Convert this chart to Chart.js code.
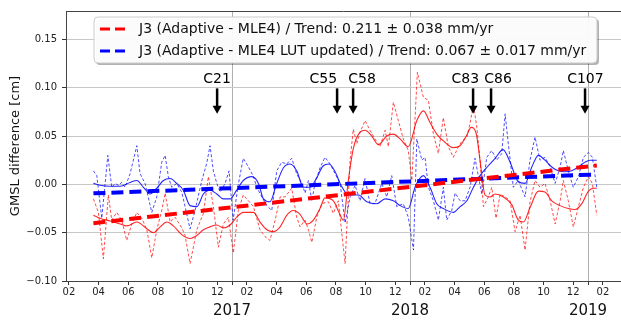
<!DOCTYPE html>
<html>
<head>
<meta charset="utf-8">
<script src="https://cdn.jsdelivr.net/npm/chart.js@4.4.0/dist/chart.umd.min.js"></script>
<style>
  html, body { margin: 0; padding: 0; background: #fff; }
  #wrap { width: 621px; height: 320px; position: relative; }
</style>
</head>
<body>
<div id="wrap"><canvas id="gmslChart"></canvas></div>
<script>
// --- data: time in decimal years, GMSL difference in cm ---
const redRawT = [2016.221,2016.249,2016.277,2016.305,2016.324,2016.352,2016.380,2016.408,2016.437,2016.465,
  2016.493,2016.521,2016.549,2016.577,2016.605,2016.624,2016.652,2016.680,2016.717,2016.736,
  2016.764,2016.802,2016.839,2016.867,2016.895,2016.923,2016.951,2016.979,2017.007,2017.035,
  2017.063,2017.092,2017.120,2017.157,2017.185,2017.213,2017.242,2017.270,2017.298,2017.335,
  2017.363,2017.382,2017.410,2017.429,2017.448,2017.476,2017.504,2017.541,2017.569,2017.597,
  2017.618,2017.635,2017.663,2017.681,2017.701,2017.719,2017.747,2017.775,2017.803,2017.831,
  2017.860,2017.878,2017.906,2017.934,2017.962,2017.990,2018.010,2018.041,2018.075,2018.103,
  2018.131,2018.159,2018.187,2018.215,2018.243,2018.270,2018.292,2018.319,2018.337,2018.356,
  2018.375,2018.393,2018.412,2018.440,2018.459,2018.483,2018.506,2018.534,2018.562,2018.590,
  2018.618,2018.646,2018.674,2018.702,2018.730,2018.758,2018.787,2018.815,2018.843,2018.861,
  2018.889,2018.917,2018.946,2018.974,2019.002,2019.024,2019.049];
const redRawV = [-0.015,-0.029,-0.077,-0.011,-0.037,-0.029,-0.037,-0.058,-0.041,-0.029,
  -0.035,-0.047,-0.076,-0.047,-0.027,-0.009,-0.039,-0.034,-0.045,-0.053,
  -0.082,-0.047,-0.030,0.008,-0.023,-0.065,-0.041,-0.034,-0.071,-0.027,
  -0.011,-0.017,-0.023,-0.047,-0.054,-0.058,-0.037,-0.013,-0.013,-0.004,
  -0.034,-0.044,-0.037,-0.047,-0.060,-0.034,-0.020,-0.018,-0.030,-0.017,
  -0.053,-0.082,0.025,0.057,0.042,0.054,0.066,0.056,0.047,0.039,
  0.056,0.039,0.085,0.066,0.047,0.035,0.004,0.116,0.090,0.087,
  0.052,0.032,0.069,0.039,0.028,0.038,0.045,0.049,0.063,0.083,
  0.059,0.025,-0.023,-0.013,-0.003,-0.035,-0.010,-0.013,-0.017,-0.049,
  -0.032,-0.068,-0.018,0.004,-0.003,0.001,-0.017,-0.041,-0.017,0.004,
  -0.017,-0.044,-0.023,-0.003,0.008,0.001,-0.032];

const blueRawT = [2016.221,2016.240,2016.268,2016.302,2016.324,2016.343,2016.361,2016.380,2016.399,2016.427,
  2016.465,2016.483,2016.511,2016.549,2016.577,2016.605,2016.624,2016.642,2016.661,2016.689,
  2016.717,2016.736,2016.764,2016.792,2016.830,2016.858,2016.876,2016.895,2016.914,2016.933,
  2016.961,2016.983,2017.006,2017.034,2017.063,2017.092,2017.120,2017.139,2017.167,2017.195,
  2017.223,2017.251,2017.279,2017.307,2017.335,2017.363,2017.392,2017.410,2017.429,2017.448,
  2017.466,2017.494,2017.522,2017.551,2017.579,2017.607,2017.635,2017.663,2017.691,2017.719,
  2017.747,2017.775,2017.803,2017.841,2017.869,2017.897,2017.925,2017.962,2017.990,2018.019,
  2018.038,2018.066,2018.084,2018.103,2018.131,2018.159,2018.187,2018.206,2018.234,2018.253,
  2018.281,2018.309,2018.337,2018.365,2018.384,2018.403,2018.431,2018.459,2018.487,2018.515,
  2018.534,2018.552,2018.580,2018.608,2018.646,2018.674,2018.702,2018.730,2018.758,2018.787,
  2018.815,2018.843,2018.861,2018.889,2018.917,2018.946,2018.974,2019.002,2019.024,2019.049];
const blueRawV = [0.014,0.009,-0.035,0.030,-0.003,0.001,-0.001,0.002,-0.003,0.011,
  0.040,0.011,0.001,-0.029,-0.013,0.023,0.030,0.008,-0.003,0.001,
  -0.008,-0.023,-0.046,-0.027,0.004,0.022,0.040,0.014,0.001,-0.008,
  0.001,0.014,-0.037,-0.001,0.027,0.018,0.008,-0.003,-0.013,-0.022,
  -0.027,0.014,0.023,0.021,0.027,0.011,0.001,-0.009,0.004,-0.017,
  0.001,0.017,0.028,0.021,0.011,0.001,-0.040,-0.013,-0.001,-0.017,
  0.006,-0.020,-0.020,0.001,-0.013,0.009,-0.023,-0.020,-0.034,-0.068,
  0.047,0.025,0.028,-0.003,-0.017,-0.037,-0.003,-0.037,-0.027,-0.009,
  -0.017,-0.017,-0.003,0.027,0.008,-0.010,0.028,0.035,0.025,0.032,
  0.073,0.042,-0.003,0.004,-0.013,0.025,0.049,0.025,0.028,0.018,
  0.001,0.018,0.035,0.014,-0.003,0.008,0.028,0.033,0.028,-0.003];

const redSmoothT = [2016.221,2016.258,2016.315,2016.371,2016.408,2016.465,2016.521,2016.558,2016.596,2016.633,
  2016.670,2016.717,2016.764,2016.802,2016.839,2016.876,2016.914,2016.951,2016.989,2017.026,
  2017.063,2017.120,2017.157,2017.195,2017.232,2017.270,2017.307,2017.344,2017.382,2017.420,
  2017.457,2017.494,2017.522,2017.569,2017.596,2017.625,2017.653,2017.681,2017.719,2017.747,
  2017.785,2017.822,2017.869,2017.906,2017.944,2017.990,2018.038,2018.075,2018.112,2018.150,
  2018.187,2018.243,2018.281,2018.319,2018.343,2018.371,2018.393,2018.421,2018.449,2018.478,
  2018.524,2018.571,2018.608,2018.637,2018.674,2018.721,2018.758,2018.796,2018.843,2018.889,
  2018.927,2018.965,2019.002,2019.030,2019.049];
const redSmoothV = [-0.032,-0.035,-0.038,-0.041,-0.043,-0.039,-0.046,-0.050,-0.044,-0.039,
  -0.043,-0.052,-0.056,-0.053,-0.047,-0.044,-0.042,-0.045,-0.042,-0.034,
  -0.029,-0.029,-0.039,-0.047,-0.049,-0.044,-0.032,-0.027,-0.031,-0.041,
  -0.037,-0.025,-0.014,-0.017,-0.027,-0.037,0.004,0.037,0.054,0.056,
  0.050,0.041,0.050,0.052,0.047,0.039,0.066,0.076,0.064,0.052,
  0.045,0.038,0.040,0.051,0.059,0.053,0.025,-0.011,-0.013,-0.010,
  -0.013,-0.021,-0.037,-0.039,-0.024,-0.007,-0.008,-0.017,-0.022,-0.025,
  -0.026,-0.020,-0.007,-0.004,-0.004];

const blueSmoothT = [2016.221,2016.258,2016.315,2016.371,2016.427,2016.465,2016.502,2016.539,2016.577,2016.614,
  2016.652,2016.689,2016.726,2016.764,2016.802,2016.839,2016.876,2016.914,2016.951,2016.989,
  2017.026,2017.063,2017.111,2017.148,2017.176,2017.213,2017.251,2017.288,2017.326,2017.363,
  2017.401,2017.438,2017.476,2017.511,2017.545,2017.579,2017.612,2017.646,2017.674,2017.710,
  2017.757,2017.813,2017.860,2017.906,2017.944,2017.990,2018.028,2018.075,2018.112,2018.150,
  2018.187,2018.243,2018.281,2018.319,2018.356,2018.393,2018.438,2018.478,2018.522,2018.562,
  2018.607,2018.646,2018.684,2018.721,2018.758,2018.796,2018.833,2018.871,2018.908,2018.946,
  2018.983,2019.011,2019.049];
const blueSmoothV = [0.001,-0.001,-0.002,-0.002,0.002,0.004,-0.003,-0.010,-0.004,0.004,
  0.006,0.001,-0.006,-0.022,-0.023,-0.010,-0.006,-0.010,-0.015,-0.015,
  -0.006,0.004,0.008,0.001,-0.015,-0.018,0.001,0.017,0.021,0.014,
  -0.003,-0.003,0.007,0.019,0.021,0.013,-0.001,-0.010,-0.011,-0.011,
  -0.018,-0.020,-0.015,-0.017,-0.022,-0.025,-0.003,0.009,-0.003,-0.020,
  -0.025,-0.029,-0.023,-0.017,-0.003,0.009,0.019,0.027,0.036,0.023,
  0.003,0.001,0.018,0.030,0.025,0.018,0.014,0.013,0.014,0.018,
  0.023,0.025,0.025];

// linear trends (end points)
const trendT = [2016.221, 2019.049];
const redTrendV = [-0.0402, 0.0196];
const blueTrendV = [-0.0093, 0.0103];

const legendLabels = [
  'J3 (Adaptive - MLE4) / Trend: 0.211 \u00b1 0.038 mm/yr',
  'J3 (Adaptive - MLE4 LUT updated) / Trend: 0.067 \u00b1 0.017 mm/yr'
];

// cycle markers
const cycleLabels = ['C21', 'C55', 'C58', 'C83', 'C86', 'C107'];
const cycleArrowT = [2016.916, 2017.590, 2017.680, 2018.354, 2018.455, 2018.983];
const cycleTextT  = [2016.916, 2017.513, 2017.730, 2018.310, 2018.494, 2018.985];
const arrowFromV = 0.0993, arrowToV = 0.0732, cycleTextV = 0.109;

// axes
const tickYears = [2016, 2017, 2018, 2019];
const tickMonths = [2, 4, 6, 8, 10, 12];
const yearLines = [2017, 2018, 2019];
const yTicks = [-0.10, -0.05, 0.00, 0.05, 0.10, 0.15];
const xMin = 2016.067, xMax = 2019.185;
const yMin = -0.10, yMax = 0.1794;

const zip = (t, v) => t.map((x, i) => ({ x: x, y: v[i] }));
const FONT = "'DejaVu Sans', sans-serif";
const RED = 'rgb(255,0,0)', BLUE = 'rgb(0,0,255)';

const monthTickValues = [];
tickYears.forEach(y => tickMonths.forEach(m => monthTickValues.push(y + (m - 1) / 12)));
yearLines.forEach(y => monthTickValues.push(y));
monthTickValues.sort((a, b) => a - b);
const isYear = v => Math.abs(v - Math.round(v)) < 1e-6;

// --- plugin: frame, cycle arrows and the boxed legend ---
const notesPlugin = {
  id: 'notes',
  afterDraw(chart) {
    const ctx = chart.ctx, a = chart.chartArea;
    const xs = chart.scales.x, ys = chart.scales.y;
    ctx.save();
    // top frame line
    ctx.strokeStyle = '#444'; ctx.lineWidth = 1;
    ctx.beginPath(); ctx.moveTo(a.left, a.top + 0.5); ctx.lineTo(a.right, a.top + 0.5); ctx.stroke();

    // arrows
    ctx.fillStyle = '#000'; ctx.strokeStyle = '#000';
    ctx.font = '14px ' + FONT; ctx.textAlign = 'center'; ctx.textBaseline = 'middle';
    cycleLabels.forEach((lab, i) => {
      const px = xs.getPixelForValue(cycleArrowT[i]);
      const y0 = ys.getPixelForValue(arrowFromV), y1 = ys.getPixelForValue(arrowToV);
      ctx.lineWidth = 2.5;
      ctx.beginPath(); ctx.moveTo(px, y0); ctx.lineTo(px, y1 - 7); ctx.stroke();
      ctx.beginPath(); ctx.moveTo(px - 4.5, y1 - 8); ctx.lineTo(px + 4.5, y1 - 8); ctx.lineTo(px, y1); ctx.closePath(); ctx.fill();
      ctx.fillText(lab, xs.getPixelForValue(cycleTextT[i]), ys.getPixelForValue(cycleTextV));
    });

    // legend box
    const bx = 94, by = 17, bw = 503, bh = 46;
    ctx.fillStyle = 'rgba(0,0,0,0.3)';
    ctx.beginPath(); ctx.roundRect(bx + 2, by + 2, bw, bh, 4); ctx.fill();
    ctx.fillStyle = 'rgba(255,255,255,0.95)';
    ctx.beginPath(); ctx.roundRect(bx, by, bw, bh, 4); ctx.fill();
    ctx.strokeStyle = '#cccccc'; ctx.lineWidth = 1; ctx.stroke();
    const cols = [RED, BLUE];
    ctx.font = '14px ' + FONT; ctx.textAlign = 'left'; ctx.textBaseline = 'middle';
    legendLabels.forEach((lab, i) => {
      const ly = by + 12 + i * 22;
      ctx.strokeStyle = cols[i]; ctx.lineWidth = 3; ctx.setLineDash([10, 5]);
      ctx.beginPath(); ctx.moveTo(bx + 6, ly); ctx.lineTo(bx + 33, ly); ctx.stroke();
      ctx.setLineDash([]);
      ctx.fillStyle = '#111';
      ctx.fillText(lab, bx + 45, ly);
    });
    ctx.restore();
  }
};

new Chart(document.getElementById('gmslChart'), {
  type: 'line',
  data: {
    datasets: [
      { label: legendLabels[0], data: zip(trendT, redTrendV), borderColor: RED, borderWidth: 4, borderDash: [12, 6], pointRadius: 0, order: 0 },
      { label: legendLabels[1], data: zip(trendT, blueTrendV), borderColor: BLUE, borderWidth: 4, borderDash: [12, 6], pointRadius: 0, order: 0 },
      { label: 'red raw', data: zip(redRawT, redRawV), borderColor: 'rgba(255,0,0,0.7)', borderWidth: 1, borderDash: [3, 2], pointRadius: 0, tension: 0, order: 2 },
      { label: 'blue raw', data: zip(blueRawT, blueRawV), borderColor: 'rgba(0,0,255,0.7)', borderWidth: 1, borderDash: [3, 2], pointRadius: 0, tension: 0, order: 2 },
      { label: 'red smooth', data: zip(redSmoothT, redSmoothV), borderColor: 'rgba(255,0,0,0.85)', borderWidth: 1.1, pointRadius: 0, cubicInterpolationMode: 'monotone', order: 1 },
      { label: 'blue smooth', data: zip(blueSmoothT, blueSmoothV), borderColor: 'rgba(0,0,255,0.85)', borderWidth: 1.1, pointRadius: 0, cubicInterpolationMode: 'monotone', order: 1 }
    ]
  },
  options: {
    responsive: true,
    maintainAspectRatio: false,
    animation: false,
    layout: { padding: { top: 10, right: 0, left: 0, bottom: 0 } },
    plugins: { legend: { display: false }, tooltip: { enabled: false } },
    scales: {
      x: {
        type: 'linear', position: 'bottom', min: xMin, max: xMax,
        afterBuildTicks: s => { s.ticks = monthTickValues.filter(v => v >= xMin && v <= xMax).map(v => ({ value: v })); },
        afterFit: s => { s.height = 17; },
        ticks: {
          autoSkip: false, maxRotation: 0, padding: 1, color: '#222', font: { family: FONT, size: 10 },
          callback: v => isYear(v) ? '' : String(Math.round((v - Math.floor(v + 1e-6)) * 12) + 1).padStart(2, '0')
        },
        grid: {
          color: c => (c.tick && isYear(c.tick.value)) ? '#b0b0b0' : 'rgba(0,0,0,0)',
          tickColor: '#333', tickLength: 4, lineWidth: 1
        },
        border: { color: '#444', width: 1 }
      },
      x2: {
        type: 'linear', position: 'bottom', min: xMin, max: xMax,
        afterBuildTicks: s => { s.ticks = yearLines.map(v => ({ value: v })); },
        afterFit: s => { s.height = 22; },
        ticks: { autoSkip: false, maxRotation: 0, padding: 4, color: '#111', font: { family: FONT, size: 15 }, callback: v => String(v) },
        grid: { display: false, drawTicks: false },
        border: { display: false }
      },
      y: {
        min: yMin, max: yMax,
        afterBuildTicks: s => { s.ticks = yTicks.map(v => ({ value: v })); },
        afterFit: s => { s.width = 66; },
        ticks: {
          padding: 5, color: '#222', font: { family: FONT, size: 10 },
          callback: v => (v < 0 ? '\u2212' : '') + Math.abs(v).toFixed(2)
        },
        grid: { color: '#c8c8c8', tickColor: '#333', tickLength: 4 },
        border: { color: '#444', width: 1 },
        title: { display: true, text: 'GMSL difference [cm]', color: '#111', font: { family: FONT, size: 13 }, padding: { top: 8, bottom: 0 } }
      }
    }
  },
  plugins: [notesPlugin]
});
</script>
</body>
</html>
